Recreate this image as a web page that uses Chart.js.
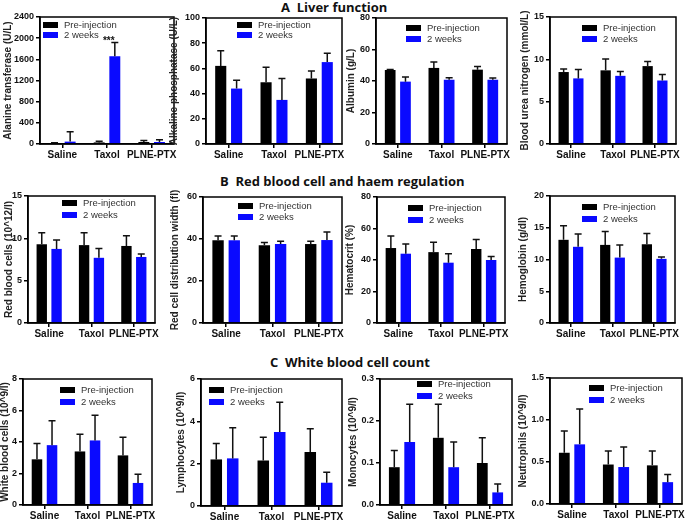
<!DOCTYPE html>
<html>
<head>
<meta charset="utf-8">
<script src="https://cdn.jsdelivr.net/npm/chart.js@4.4.0/dist/chart.umd.min.js"></script>
<style>
body { margin: 0; background: #fff; }
#fig { position: relative; width: 685px; height: 520px; overflow: hidden; background: #fff; }
#fig canvas { position: absolute; }
.sec { position: absolute; font-family: "Open Sans", sans-serif; font-weight: bold; font-size: 13px; line-height: 13px; color: #111; white-space: pre; }
</style>
</head>
<body>
<div id="fig">
  <div class="sec" style="left:281px; top:1px">A  Liver function</div>
  <div class="sec" style="left:220px; top:175px">B  Red blood cell and haem regulation</div>
  <div class="sec" style="left:270px; top:356px">C  White blood cell count</div>
</div>
<script>
// groups and series
const groups = ['Saline', 'Taxol', 'PLNE-PTX'];
const seriesNames = ['Pre-injection', '2 weeks'];

// A - liver function (bar value, error bar length)
const altPre = [15, 30, 38],    altPreErr = [10, 20, 30];
const altWk = [45, 1660, 38],   altWkErr = [185, 260, 40];
const alpPre = [62, 49, 52],    alpPreErr = [12, 12, 6];
const alpWk = [44, 35, 65],     alpWkErr = [6.5, 17, 7];
const albPre = [47, 48.3, 47.2], albPreErr = [0.3, 3.7, 2];
const albWk = [39.6, 40.8, 40.8], albWkErr = [3, 1.3, 1.1];
const bunPre = [8.5, 8.7, 9.2], bunPreErr = [0.35, 1.35, 0.55];
const bunWk = [7.75, 8.05, 7.5], bunWkErr = [1.05, 0.5, 0.7];

// B - red blood cell and haem regulation
const rbcPre = [9.3, 9.2, 9.1], rbcPreErr = [1.35, 1.45, 1.2];
const rbcWk = [8.75, 7.7, 7.8], rbcWkErr = [1.05, 1.1, 0.35];
const rdwPre = [39.4, 37, 37.6], rdwPreErr = [2, 1.3, 1.3];
const rdwWk = [39.4, 37.6, 39.5], rdwWkErr = [2, 1.3, 3.8];
const hctPre = [47.6, 45, 47],  hctPreErr = [7.6, 6.3, 6];
const hctWk = [44, 38.3, 40],   hctWkErr = [6.2, 5.7, 2.3];
const hbPre = [13.1, 12.3, 12.4], hbPreErr = [2.2, 2.1, 1.7];
const hbWk = [12, 10.3, 10.1],  hbWkErr = [2, 2, 0.3];

// C - white blood cell count
const wbcPre = [2.9, 3.4, 3.15], wbcPreErr = [1, 1.1, 1.15];
const wbcWk = [3.8, 4.1, 1.4],  wbcWkErr = [1.55, 1.6, 0.55];
const lymPre = [2.2, 2.15, 2.55], lymPreErr = [0.75, 1.1, 1.1];
const lymWk = [2.25, 3.5, 1.1], lymWkErr = [1.45, 1.4, 0.5];
const monPre = [0.09, 0.16, 0.1], monPreErr = [0.04, 0.08, 0.06];
const monWk = [0.15, 0.09, 0.03], monWkErr = [0.09, 0.06, 0.02];
const neuPre = [0.61, 0.47, 0.46], neuPreErr = [0.26, 0.16, 0.17];
const neuWk = [0.71, 0.44, 0.26], neuWkErr = [0.42, 0.24, 0.09];

// panel layout: plot box [left, top, right, bottom], y title centre x, legend [dx, dy, gap]
const panels = [
  {box: [40, 17, 174, 144], tx: 10, title: 'Alanine transferase (U/L)', max: 2400, step: 400, dec: 0, pre: altPre, preErr: altPreErr, wk: altWk, wkErr: altWkErr, leg: [3, 8, 10], stars: 1},
  {box: [206, 18, 342, 144], tx: 176, title: 'Alkaline phosphatase (U/L)', max: 100, step: 20, dec: 0, pre: alpPre, preErr: alpPreErr, wk: alpWk, wkErr: alpWkErr, leg: [31, 7, 10]},
  {box: [376, 18, 507, 144], tx: 353, title: 'Albumin (g/L)', max: 80, step: 20, dec: 0, pre: albPre, preErr: albPreErr, wk: albWk, wkErr: albWkErr, leg: [30, 10, 11]},
  {box: [550, 17, 676, 144], tx: 527, title: 'Blood urea nitrogen (mmol/L)', max: 15, step: 5, dec: 0, pre: bunPre, preErr: bunPreErr, wk: bunWk, wkErr: bunWkErr, leg: [32, 11, 11]},
  {box: [28, 196, 155, 323], tx: 11, title: 'Red blood cells (10^12/l)', max: 15, step: 5, dec: 0, pre: rbcPre, preErr: rbcPreErr, wk: rbcWk, wkErr: rbcWkErr, leg: [34, 7, 12]},
  {box: [203, 197, 342, 323], tx: 177, title: 'Red cell distribution width (fl)', max: 60, step: 20, dec: 0, pre: rdwPre, preErr: rdwPreErr, wk: rdwWk, wkErr: rdwWkErr, leg: [35, 9, 11]},
  {box: [377, 197, 505, 323], tx: 352, title: 'Hematocrit (%)', max: 80, step: 20, dec: 0, pre: hctPre, preErr: hctPreErr, wk: hctWk, wkErr: hctWkErr, leg: [31, 11, 12]},
  {box: [550, 196, 675, 323], tx: 525, title: 'Hemoglobin (g/dl)', max: 20, step: 5, dec: 0, pre: hbPre, preErr: hbPreErr, wk: hbWk, wkErr: hbWkErr, leg: [32, 11, 12]},
  {box: [23, 379, 152, 505], tx: 7, title: 'White blood cells (10^9/l)', max: 8, step: 2, dec: 0, pre: wbcPre, preErr: wbcPreErr, wk: wbcWk, wkErr: wbcWkErr, leg: [37, 11, 12]},
  {box: [201, 379, 342, 506], tx: 183, title: 'Lymphocytes (10^9/l)', max: 6, step: 2, dec: 0, pre: lymPre, preErr: lymPreErr, wk: lymWk, wkErr: lymWkErr, leg: [8, 11, 12]},
  {box: [380, 379, 512, 505], tx: 355, title: 'Monocytes (10^9/l)', max: 0.3, step: 0.1, dec: 1, pre: monPre, preErr: monPreErr, wk: monWk, wkErr: monWkErr, leg: [37, 5, 12]},
  {box: [550, 378, 682, 504], tx: 525, title: 'Neutrophils (10^9/l)', max: 1.5, step: 0.5, dec: 1, pre: neuPre, preErr: neuPreErr, wk: neuWk, wkErr: neuWkErr, leg: [39, 10, 12]}
];

const colors = ['#000000', '#0a0aff'];

// error bars, frame, stars
const errorBars = {
  id: 'errorBars',
  afterDatasetsDraw(chart, args, opts) {
    const ctx = chart.ctx, ys = chart.scales.y, a = chart.chartArea;
    ctx.save();
    ctx.strokeStyle = '#111';
    ctx.lineWidth = 1.5;
    chart.data.datasets.forEach(function (ds, i) {
      chart.getDatasetMeta(i).data.forEach(function (bar, j) {
        const top = ys.getPixelForValue(ds.data[j] + ds.err[j]);
        ctx.beginPath();
        ctx.moveTo(bar.x, bar.y);
        ctx.lineTo(bar.x, top);
        ctx.moveTo(bar.x - 3.5, top);
        ctx.lineTo(bar.x + 3.5, top);
        ctx.stroke();
      });
    });
    if (opts.stars) {
      const ds = chart.data.datasets[1];
      const bar = chart.getDatasetMeta(1).data[1];
      const top = ys.getPixelForValue(ds.data[1] + ds.err[1]);
      ctx.fillStyle = '#111';
      ctx.font = 'bold 10px "Liberation Sans"';
      ctx.textAlign = 'center';
      ctx.textBaseline = 'alphabetic';
      ctx.fillText('***', bar.x - 6, top + 2);
    }
    ctx.strokeStyle = '#000';
    ctx.strokeRect(a.left, a.top, a.right - a.left, a.bottom - a.top);
    ctx.restore();
  }
};

// legend inside the plot
const boxLegend = {
  id: 'boxLegend',
  afterDraw(chart, args, opts) {
    const ctx = chart.ctx, a = chart.chartArea;
    ctx.save();
    ctx.font = '9.5px "Liberation Sans"';
    ctx.textBaseline = 'middle';
    chart.data.datasets.forEach(function (ds, i) {
      const x = a.left + opts.pos[0];
      const y = a.top + opts.pos[1] + i * opts.pos[2];
      ctx.fillStyle = ds.backgroundColor;
      ctx.fillRect(x, y - 3, 15, 6);
      ctx.fillStyle = '#333';
      ctx.fillText(ds.label, x + 21, y + 0.5);
    });
    ctx.restore();
  }
};

const fig = document.getElementById('fig');

panels.forEach(function (p) {
  const L = p.box[0], T = p.box[1], R = p.box[2], B = p.box[3];
  const left = p.tx - 8, top = T - 8;
  const cv = document.createElement('canvas');
  cv.width = R - left + 6;
  cv.height = B - T + 8 + 22;
  cv.style.left = left + 'px';
  cv.style.top = top + 'px';
  fig.appendChild(cv);

  new Chart(cv, {
    type: 'bar',
    data: {
      labels: groups,
      datasets: [
        {label: seriesNames[0], data: p.pre, err: p.preErr, backgroundColor: colors[0]},
        {label: seriesNames[1], data: p.wk, err: p.wkErr, backgroundColor: colors[1]}
      ]
    },
    options: {
      responsive: false,
      animation: false,
      devicePixelRatio: 1,
      layout: {padding: {top: 8, right: 6, left: 0, bottom: 0}},
      datasets: {bar: {categoryPercentage: 0.7, barPercentage: 0.7}},
      plugins: {
        legend: {display: false},
        tooltip: {enabled: false},
        errorBars: {stars: p.stars},
        boxLegend: {pos: p.leg}
      },
      scales: {
        x: {
          grid: {drawOnChartArea: false, offset: false, tickLength: 4, color: '#000', lineWidth: 1.5},
          border: {display: true, color: '#000', width: 1.5},
          ticks: {color: '#111', padding: 1, font: {family: 'Liberation Sans', size: 10, weight: 'bold'}, maxRotation: 0, autoSkip: false},
          afterFit: function (s) { s.height = 22; }
        },
        y: {
          min: 0, max: p.max,
          grid: {drawOnChartArea: false, tickLength: 4, color: '#000', lineWidth: 1.5},
          border: {display: true, color: '#000', width: 1.5},
          ticks: {stepSize: p.step, color: '#111', padding: 2, font: {family: 'Liberation Sans', size: 9, weight: 'bold'},
                  callback: function (v) { return Number(v).toFixed(p.dec); }},
          title: {display: true, text: p.title, color: '#222', padding: {top: 0, bottom: 0}, font: {family: 'Liberation Sans', size: 10, weight: 'bold'}},
          afterFit: function (s) { s.width = L - left; }
        }
      }
    },
    plugins: [errorBars, boxLegend]
  });
});
</script>
</body>
</html>
